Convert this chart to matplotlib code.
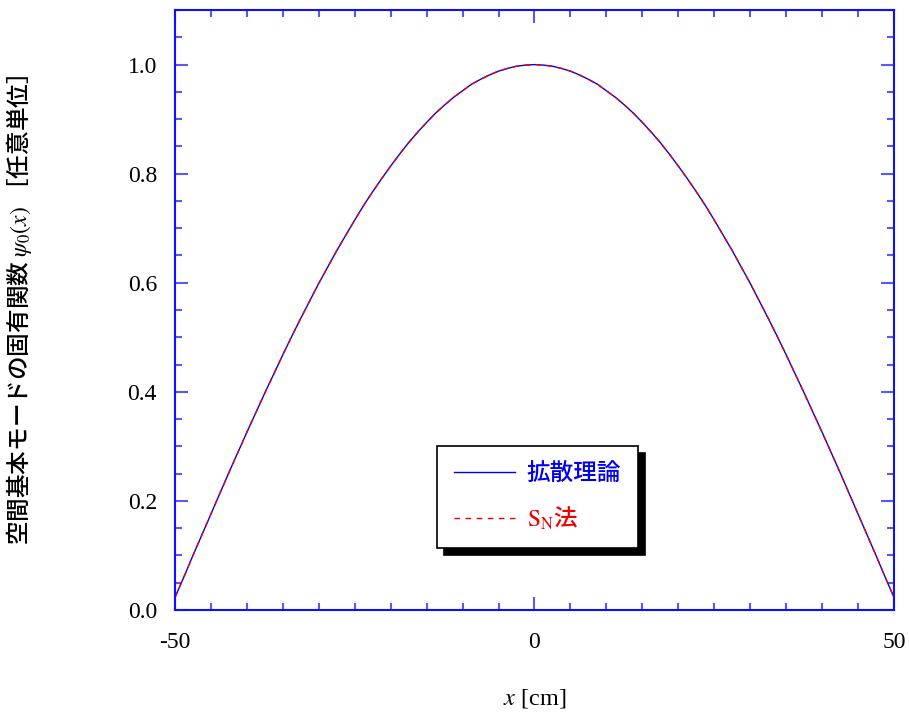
import matplotlib
matplotlib.use("Agg")
import matplotlib.pyplot as plt
from matplotlib.ticker import MultipleLocator

plt.rcParams['mathtext.fontset'] = 'stix'

# Fundamental spatial mode of the slab, read at 1.25 cm steps
x_cm = [-50.0, -48.75, -47.5, -46.25, -45.0, -43.75, -42.5, -41.25, -40.0, -38.75,
        -37.5, -36.25, -35.0, -33.75, -32.5, -31.25, -30.0, -28.75, -27.5, -26.25,
        -25.0, -23.75, -22.5, -21.25, -20.0, -18.75, -17.5, -16.25, -15.0, -13.75,
        -12.5, -11.25, -10.0, -8.75, -7.5, -6.25, -5.0, -3.75, -2.5, -1.25,
        0.0, 1.25, 2.5, 3.75, 5.0, 6.25, 7.5, 8.75, 10.0, 11.25,
        12.5, 13.75, 15.0, 16.25, 17.5, 18.75, 20.0, 21.25, 22.5, 23.75,
        25.0, 26.25, 27.5, 28.75, 30.0, 31.25, 32.5, 33.75, 35.0, 36.25,
        37.5, 38.75, 40.0, 41.25, 42.5, 43.75, 45.0, 46.25, 47.5, 48.75, 50.0]
psi_diffusion = [0.023, 0.061, 0.100, 0.138, 0.176, 0.214, 0.252, 0.289, 0.326, 0.362,
                 0.398, 0.433, 0.468, 0.502, 0.535, 0.567, 0.599, 0.629, 0.659, 0.687,
                 0.715, 0.742, 0.767, 0.791, 0.814, 0.836, 0.857, 0.876, 0.894, 0.911,
                 0.926, 0.940, 0.952, 0.964, 0.973, 0.981, 0.988, 0.993, 0.997, 0.999,
                 1.000, 0.999, 0.997, 0.993, 0.988, 0.981, 0.973, 0.964, 0.952, 0.940,
                 0.926, 0.911, 0.894, 0.876, 0.857, 0.836, 0.814, 0.791, 0.767, 0.742,
                 0.715, 0.687, 0.659, 0.629, 0.599, 0.567, 0.535, 0.502, 0.468, 0.433,
                 0.398, 0.362, 0.326, 0.289, 0.252, 0.214, 0.176, 0.138, 0.100, 0.061, 0.023]
psi_sn = [0.023, 0.061, 0.100, 0.138, 0.176, 0.214, 0.252, 0.289, 0.326, 0.362,
          0.398, 0.433, 0.468, 0.502, 0.535, 0.567, 0.599, 0.629, 0.659, 0.687,
          0.715, 0.742, 0.767, 0.791, 0.814, 0.836, 0.857, 0.876, 0.894, 0.911,
          0.926, 0.940, 0.952, 0.964, 0.973, 0.981, 0.988, 0.993, 0.997, 0.999,
          1.000, 0.999, 0.997, 0.993, 0.988, 0.981, 0.973, 0.964, 0.952, 0.940,
          0.926, 0.911, 0.894, 0.876, 0.857, 0.836, 0.814, 0.791, 0.767, 0.742,
          0.715, 0.687, 0.659, 0.629, 0.599, 0.567, 0.535, 0.502, 0.468, 0.433,
          0.398, 0.362, 0.326, 0.289, 0.252, 0.214, 0.176, 0.138, 0.100, 0.061, 0.023]

x_ticks = [-50, 0, 50]
y_ticks = [0.0, 0.2, 0.4, 0.6, 0.8, 1.0]

serif = ['Liberation Serif', 'DejaVu Serif']
cjk = ['Noto Sans CJK JP', 'DejaVu Sans']
spine_col = '#1010ff'
tick_col = '#5a5aee'

fig = plt.figure(figsize=(9.09, 7.17), dpi=100)
ax = fig.add_axes([0.1925, 0.1492, 0.791, 0.8368])

ax.plot(x_cm, psi_diffusion, color='#0000ee', lw=1.0, label='拡散理論')
ax.plot(x_cm, psi_sn, color='#ee0000', lw=1.0, dashes=(4, 4),
        label=r'$\mathrm{S_N}$法')

ax.set_xlim(-50, 50)
ax.set_ylim(0, 1.1)
ax.set_xticks(x_ticks)
ax.set_yticks(y_ticks)
ax.set_xticklabels([f'{v:d}' for v in x_ticks])
ax.set_yticklabels([f'{v:.1f}' for v in y_ticks])
ax.xaxis.set_minor_locator(MultipleLocator(5))
ax.yaxis.set_minor_locator(MultipleLocator(0.05))

for side in ax.spines.values():
    side.set_color(spine_col)
    side.set_linewidth(1.5)

ax.tick_params(which='both', direction='in', top=True, right=True,
               color=tick_col, width=1.5)
ax.tick_params(which='minor', length=5)
ax.tick_params(axis='x', which='major', length=9.5, pad=16)
ax.tick_params(axis='y', which='major', length=9.5, pad=13)
for lab in ax.get_xticklabels() + ax.get_yticklabels():
    lab.set_fontfamily(serif)
    lab.set_fontsize(17)
    lab.set_color('black')

ax.set_xlabel(r'$x$ [cm]', fontsize=17.5, family=serif)
ax.xaxis.set_label_coords(0.5, -0.128)
ax.set_ylabel(r'空間基本モードの固有関数 $\psi_{0}(x)$ ［任意単位］',
              fontsize=17, family=cjk, fontweight='medium')
ax.yaxis.set_label_coords(-0.196, 0.5)

leg = ax.legend(loc='center', bbox_to_anchor=(0.504, 0.188),
                prop={'family': cjk, 'size': 17, 'weight': 'medium'},
                labelcolor='linecolor', fancybox=False, framealpha=1,
                edgecolor='black', handlelength=2.6, handletextpad=0.5,
                borderpad=0.7, labelspacing=0.8,
                shadow={'ox': 5, 'oy': -5, 'color': 'black', 'alpha': 1})
leg.get_frame().set_linewidth(1.2)

fig.savefig('out.png', dpi=100)
